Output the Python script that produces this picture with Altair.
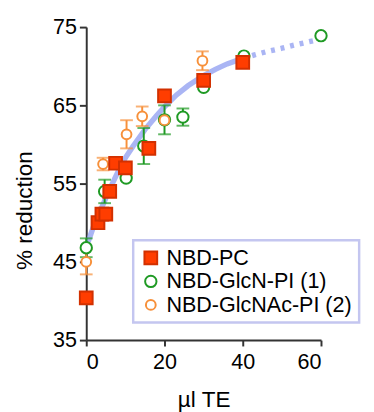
import altair as alt
import pandas as pd

series_names = ["NBD-PC", "NBD-GlcN-PI (1)", "NBD-GlcNAc-PI (2)"]
fill_colors = ["#ff3d00", "white", "white"]
stroke_colors = ["#d23000", "#1f9a24", "#f7903a"]
shapes = ["square", "circle", "circle"]
sizes = [170, 100, 100]

pc_x = [0, 3, 4, 5, 6, 7.5, 10, 16, 20, 30, 40]
pc_y = [40.4, 50.0, 51.1, 51.1, 54.0, 57.6, 57.0, 59.5, 66.2, 68.2, 70.5]

glcn_x = [0, 4.7, 10.2, 14.7, 20, 24.7, 30, 40.3, 60]
glcn_y = [46.8, 54.0, 55.7, 59.8, 63.15, 63.5, 67.3, 71.3, 73.9]
glcn_err = [1.2, 1.5, 0, 2.3, 1.85, 1.1, 0, 0, 0]

glcnac_x = [0, 4.3, 10.3, 14.3, 20, 29.7]
glcnac_y = [45.0, 57.5, 61.3, 63.6, 63.1, 70.7]
glcnac_err = [1.6, 0.8, 1.8, 1.25, 0, 1.2]

fit_x = [0.5, 2, 4, 6, 8, 10, 12, 15, 18, 20, 23, 26, 30, 33, 36, 40]
fit_y = [47.6, 49.7, 52.0, 54.3, 56.4, 58.3, 59.8, 61.9, 63.7, 64.8, 66.3, 67.5, 68.8, 69.6, 70.3, 71.0]
ext_x = [40, 43, 46, 50, 54, 58.5]
ext_y = [71.0, 71.45, 71.85, 72.3, 72.8, 73.3]

# points table (draw order: green, orange, squares)
rows = []
k = 0
for name, xs, ys in [(series_names[1], glcn_x, glcn_y),
                     (series_names[2], glcnac_x, glcnac_y),
                     (series_names[0], pc_x, pc_y)]:
    for xv, yv in zip(xs, ys):
        rows.append({"series": name, "x": xv, "y": yv, "ord": k})
        k += 1
pts = pd.DataFrame(rows)

err_rows = []
for name, xs, ys, es in [(series_names[1], glcn_x, glcn_y, glcn_err),
                         (series_names[2], glcnac_x, glcnac_y, glcnac_err)]:
    for xv, yv, ev in zip(xs, ys, es):
        if ev > 0:
            err_rows.append({"series": name, "x": xv, "lo": yv - ev, "hi": yv + ev})
errs = pd.DataFrame(err_rows)

fit = pd.DataFrame({"x": fit_x, "y": fit_y})
ext = pd.DataFrame({"x": ext_x, "y": ext_y})

xscale = alt.Scale(domain=[0, 60], nice=False, zero=False)
yscale = alt.Scale(domain=[35, 75], nice=False, zero=False)

xaxis = alt.Axis(values=[0, 20, 40, 60], title="µl TE", titleFontSize=23,
                 titleFontWeight="normal", labelFontSize=22, tickSize=6,
                 labelPadding=6, titlePadding=17, grid=False)
yaxis = alt.Axis(values=[35, 45, 55, 65, 75], title="% reduction", titleFontSize=23,
                 titleFontWeight="normal", labelFontSize=22, tickSize=7,
                 labelPadding=3, titlePadding=16, titleY=187, grid=False)

X = alt.X("x:Q", scale=xscale, axis=xaxis)
Y = alt.Y("y:Q", scale=yscale, axis=yaxis)

err_color = alt.Color("series:N", scale=alt.Scale(domain=series_names[1:], range=stroke_colors[1:]), legend=None)

fit_line = alt.Chart(fit).mark_line(color="#8e9cf0", strokeWidth=5.5, opacity=0.75).encode(x=X, y=Y)
ext_line = alt.Chart(ext).mark_line(color="#8e9cf0", strokeWidth=5.5, opacity=0.75,
                                    strokeDash=[4, 6]).encode(x=X, y=Y)

rules = alt.Chart(errs).mark_rule(strokeWidth=2).encode(
    x=alt.X("x:Q", scale=xscale), y=alt.Y("lo:Q", scale=yscale), y2="hi:Q", color=err_color)
cap_lo = alt.Chart(errs).mark_tick(orient="horizontal", size=13, thickness=2).encode(
    x=alt.X("x:Q", scale=xscale), y=alt.Y("lo:Q", scale=yscale), color=err_color)
cap_hi = alt.Chart(errs).mark_tick(orient="horizontal", size=13, thickness=2).encode(
    x=alt.X("x:Q", scale=xscale), y=alt.Y("hi:Q", scale=yscale), color=err_color)

leg = alt.Legend(orient="none", legendX=48, legendY=218, title=None,
                 labelFontSize=22, labelColor="black", padding=7, labelLimit=400,
                 strokeColor="#c4c6f0", fillColor="white", rowPadding=2,
                 labelOffset=5, symbolStrokeWidth=2)

points = alt.Chart(pts).mark_point(filled=False, strokeWidth=2, opacity=1).encode(
    x=X, y=Y,
    shape=alt.Shape("series:N", scale=alt.Scale(domain=series_names, range=shapes), legend=leg),
    fill=alt.Fill("series:N", scale=alt.Scale(domain=series_names, range=fill_colors), legend=leg),
    stroke=alt.Stroke("series:N", scale=alt.Scale(domain=series_names, range=stroke_colors), legend=leg),
    size=alt.Size("series:N", scale=alt.Scale(domain=series_names, range=sizes), legend=leg),
    order=alt.Order("ord:Q"),
)

chart = alt.layer(fit_line, ext_line, rules, cap_lo, cap_hi, points).properties(
    width=240, height=320,
    padding={"left": 80, "top": 15, "right": 46, "bottom": 70},
    autosize=alt.AutoSizeParams(type="none"),
).configure(font="Liberation Sans").configure_view(stroke=None).configure_axis(
    domainColor="#333333", domainWidth=2, tickColor="#333333", tickWidth=2,
    labelColor="black", titleColor="black", labelFont="Liberation Sans", titleFont="Liberation Sans"
).configure_legend(strokeWidth=2.5, labelFont="Liberation Sans", labelFontSize=22,
                   labelLimit=400, labelColor="black")

chart.save("out.html", embed_options={"renderer": "svg", "actions": False})
